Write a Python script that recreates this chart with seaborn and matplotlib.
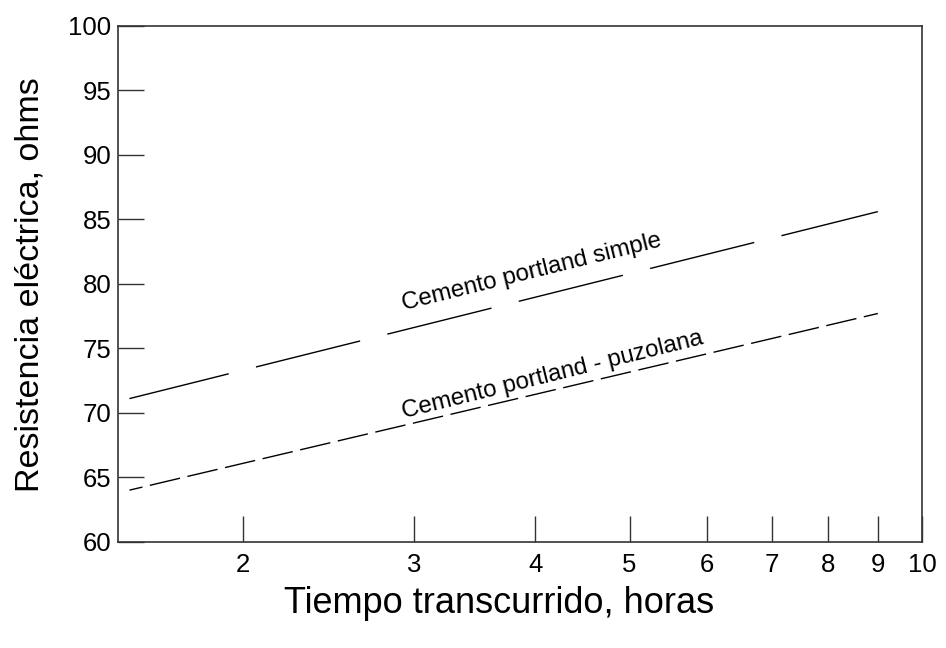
import pandas as pd
import matplotlib
matplotlib.use("Agg")
import matplotlib.pyplot as plt
import seaborn as sns

# =========================
# Data
# =========================
tiempo = [1.53, 9.0]
simple = [71.1, 85.6]
puzolana = [64.0, 77.7]
series_names = ["Cemento portland simple", "Cemento portland - puzolana"]
x_ticks = [2, 3, 4, 5, 6, 7, 8, 9, 10]
y_ticks = [60, 65, 70, 75, 80, 85, 90, 95, 100]

data = pd.DataFrame({
    "Tiempo": tiempo * 2,
    "Resistencia": simple + puzolana,
    "Cemento": [series_names[0]] * len(tiempo) + [series_names[1]] * len(tiempo),
})

sns.set_style("white")
plt.rcParams["font.family"] = ["Liberation Sans", "DejaVu Sans"]
plt.rcParams["text.color"] = "black"
plt.rcParams["axes.labelcolor"] = "black"

fig, ax = plt.subplots(figsize=(9.46, 6.48), dpi=100)
fig.subplots_adjust(left=0.125, right=0.975, top=0.96, bottom=0.164)

sns.lineplot(ax=ax, data=data, x="Tiempo", y="Resistencia", hue="Cemento", style="Cemento",
             palette={series_names[0]: "black", series_names[1]: "black"},
             dashes={series_names[0]: (77.3, 20.2), series_names[1]: (22.3, 5.5)},
             linewidth=1.0, legend=False)

# dash phase so the first dash matches the original
ax.lines[0].set_linestyle((3.6, (77.3, 20.2)))
ax.lines[1].set_linestyle((12.7, (22.3, 5.5)))

ax.set_xscale("log")
ax.set_xlim(1.49, 10)
ax.set_ylim(60, 100)
ax.set_xticks(x_ticks)
ax.set_xticklabels([str(t) for t in x_ticks])
ax.xaxis.set_minor_locator(matplotlib.ticker.NullLocator())
ax.set_yticks(y_ticks)

ax.tick_params(axis="both", direction="in", length=19, width=1, color="#333333",
               labelcolor="black", labelsize=18.5, bottom=True, left=True)
ax.tick_params(axis="x", pad=8)
ax.tick_params(axis="y", pad=5)
for s in ax.spines.values():
    s.set_visible(True)
    s.set_color("#333333")
    s.set_linewidth(1.2)

ax.set_xlabel("Tiempo transcurrido, horas", fontsize=26)
ax.set_ylabel("Resistencia eléctrica, ohms", fontsize=24.5)
ax.xaxis.set_label_coords(0.473, -0.085)
ax.yaxis.set_label_coords(-0.09, 0.498)

# Inline labels
ax.text(3.97, 80.9, series_names[0], fontsize=17.3, rotation=13.9,
        ha="center", va="center", rotation_mode="anchor")
ax.text(4.17, 72.9, series_names[1], fontsize=17.3, rotation=13.9,
        ha="center", va="center", rotation_mode="anchor")

plt.savefig("out.png", dpi=100)
plt.close()
